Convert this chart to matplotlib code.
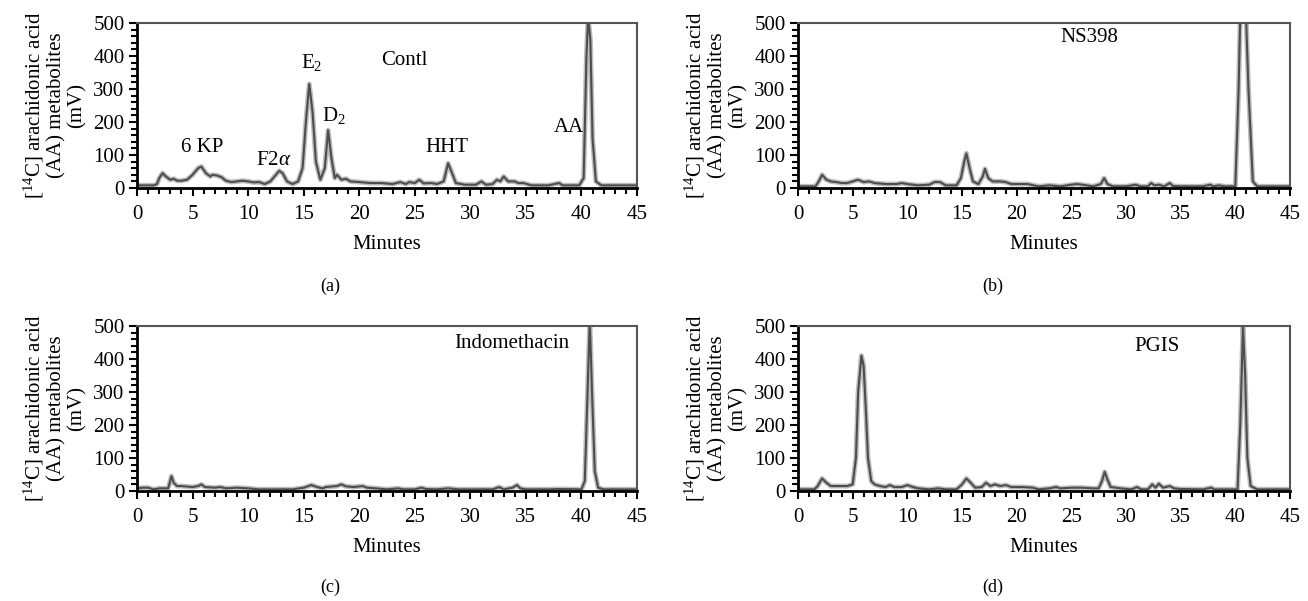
import matplotlib
matplotlib.use('Agg')
import matplotlib.pyplot as plt
from matplotlib.ticker import MultipleLocator

plt.rcParams['font.family'] = ['Liberation Serif', 'DejaVu Serif']
plt.rcParams['mathtext.fontset'] = 'custom'
plt.rcParams['mathtext.rm'] = 'Liberation Serif'
plt.rcParams['mathtext.it'] = 'Liberation Serif:italic'

# Chromatogram traces (minutes, mV)
time_a = [0, 1.5, 1.8, 2.0, 2.3, 2.6, 3.0, 3.3, 3.6, 4.0, 4.5, 5.0, 5.5, 5.8, 6.2, 6.6, 6.8,
          7.2, 7.6, 8.0, 8.5, 9.0, 9.5, 10.0, 10.5, 11.0, 11.5, 12.0, 12.5, 12.8, 13.1, 13.5,
          14.0, 14.5, 14.9, 15.2, 15.5, 15.8, 16.1, 16.5, 16.9, 17.2, 17.5, 17.8, 18.0, 18.4,
          18.8, 19.2, 20.0, 21.0, 22.0, 23.0, 23.7, 24.2, 24.5, 25.0, 25.4, 25.8, 26.5, 27.0,
          27.6, 28.0, 28.3, 28.7, 29.5, 30.5, 31.0, 31.4, 32.0, 32.4, 32.7, 33.0, 33.4, 34.0,
          34.3, 34.8, 35.5, 37.0, 38.0, 38.3, 39.8, 40.2, 40.45, 40.6, 40.8, 41.0, 41.3, 41.8, 45]
mv_a = [8, 8, 12, 30, 45, 35, 25, 28, 22, 22, 25, 40, 60, 65, 45, 35, 40,
        38, 33, 22, 18, 20, 22, 20, 17, 18, 12, 20, 40, 52, 45, 20,
        12, 20, 60, 200, 315, 230, 80, 25, 60, 175, 90, 30, 40, 25,
        28, 20, 18, 15, 15, 12, 18, 12, 18, 15, 25, 14, 15, 12,
        20, 75, 50, 15, 10, 10, 20, 10, 12, 25, 20, 35, 20, 20,
        15, 15, 8, 8, 15, 8, 8, 30, 400, 520, 450, 150, 20, 8, 8]

time_b = [0, 1.6, 1.9, 2.2, 2.6, 3.0, 3.5, 4.0, 4.5, 5.0, 5.5, 6.0, 6.5, 7.0, 8.0, 9.0,
          9.5, 10.0, 11.0, 12.0, 12.5, 13.0, 13.5, 14.5, 14.9, 15.2, 15.4, 15.7, 16.0, 16.5,
          16.9, 17.1, 17.4, 17.8, 18.5, 19.0, 19.5, 20.0, 21.0, 22.0, 23.0, 24.0, 25.0, 25.5,
          26.0, 27.0, 27.7, 28.0, 28.3, 28.8, 30.0, 30.9, 31.3, 32.0, 32.3, 32.6, 33.0, 33.5,
          34.0, 34.3, 35.0, 37.0, 37.7, 38.0, 38.5, 39.0, 40.0, 40.3, 40.5, 40.9, 41.2, 41.6,
          42.0, 45]
mv_b = [5, 5, 20, 40, 25, 20, 18, 15, 15, 20, 25, 18, 20, 15, 12, 12,
        15, 12, 8, 10, 18, 18, 8, 8, 30, 80, 105, 60, 20, 12,
        35, 58, 30, 20, 20, 18, 12, 12, 12, 5, 8, 5, 10, 12,
        10, 5, 12, 30, 12, 5, 5, 10, 5, 5, 15, 8, 10, 5,
        15, 6, 5, 5, 10, 5, 8, 5, 5, 300, 600, 600, 300, 20,
        5, 5]

time_c = [0, 0.5, 1.0, 1.5, 2.0, 2.8, 2.95, 3.1, 3.3, 3.6, 4.0, 5.0, 5.5, 5.8, 6.1, 7.0,
          7.5, 8.0, 9.0, 10.0, 11.0, 12.0, 13.0, 14.0, 15.0, 15.7, 16.2, 16.7, 17.0, 18.0,
          18.4, 18.8, 19.5, 20.3, 20.7, 21.5, 22.5, 23.5, 24.0, 25.0, 25.6, 26.0, 27.0, 28.0,
          29.0, 30.0, 31.0, 32.0, 32.6, 33.0, 33.8, 34.2, 34.5, 35.0, 37.0, 38.0, 40.0, 40.3,
          40.55, 40.75, 40.95, 41.2, 41.5, 42.0, 45]
mv_c = [8, 10, 10, 5, 8, 8, 25, 45, 25, 15, 15, 12, 15, 20, 12, 10,
        12, 8, 10, 8, 5, 5, 5, 5, 10, 18, 12, 8, 12, 15,
        20, 14, 12, 15, 10, 8, 5, 8, 5, 5, 10, 6, 5, 8,
        5, 5, 5, 5, 12, 5, 10, 18, 8, 5, 5, 6, 5, 30,
        300, 520, 300, 60, 10, 5, 5]

time_d = [0, 1.5, 1.8, 2.2, 2.6, 3.0, 3.5, 4.5, 5.0, 5.3, 5.5, 5.8, 6.0, 6.2, 6.4, 6.7,
          7.0, 7.5, 8.0, 8.4, 8.8, 9.5, 10.0, 10.5, 11.0, 12.0, 12.8, 13.5, 14.5, 15.0,
          15.4, 15.8, 16.2, 16.8, 17.2, 17.6, 18.0, 18.5, 19.0, 19.5, 20.5, 21.5, 22.0, 23.0,
          23.6, 24.0, 25.0, 26.0, 27.0, 27.5, 27.8, 28.05, 28.3, 28.6, 29.5, 30.5, 31.0, 31.4,
          32.0, 32.4, 32.7, 33.0, 33.4, 34.0, 34.4, 35.0, 37.0, 37.8, 38.1, 39.5, 40.2, 40.45,
          40.7, 40.9, 41.1, 41.4, 42.0, 45]
mv_d = [5, 5, 15, 38, 25, 15, 15, 15, 20, 100, 300, 410, 380, 250, 100, 30,
        20, 15, 12, 18, 12, 12, 18, 12, 8, 5, 8, 5, 5, 20,
        38, 25, 10, 12, 25, 15, 20, 15, 18, 12, 12, 10, 5, 8,
        12, 8, 10, 10, 8, 8, 30, 58, 35, 12, 8, 5, 12, 5,
        5, 20, 10, 22, 10, 15, 8, 6, 5, 10, 5, 5, 5, 200,
        500, 350, 100, 15, 5, 5]

ylabel_text = '[$^{14}$C] arachidonic acid\n(AA) metabolites\n(mV)'
captions = ['(a)', '(b)', '(c)', '(d)']
titles = ['Contl', 'NS398', 'Indomethacin', 'PGIS']
title_pos = [(24.1, 385), (26.6, 457), (33.7, 448), (32.8, 439)]

# peak labels for the control run
peak_labels = ['6 KP', r'F2$\alpha$', r'E$_2$', r'D$_2$', 'HHT', 'AA']
peak_label_pos = [(5.9, 124), (12.3, 82), (15.7, 379), (17.7, 221), (27.9, 124), (38.9, 182)]

FS = 15
LINE = '#4d4d4d'


def style_axes(ax):
    ax.set_xlim(0, 45)
    ax.set_ylim(0, 500)
    ax.xaxis.set_major_locator(MultipleLocator(5))
    ax.xaxis.set_minor_locator(MultipleLocator(1))
    ax.yaxis.set_major_locator(MultipleLocator(100))
    ax.yaxis.set_minor_locator(MultipleLocator(20))
    ax.tick_params(which='both', direction='out', top=False, right=False,
                   labelsize=FS, width=1.5, color='black')
    ax.tick_params(axis='x', which='both', pad=6)
    ax.tick_params(axis='y', which='both', pad=3)
    ax.tick_params(which='major', length=6)
    ax.tick_params(which='minor', length=4)
    for side in ['left', 'bottom']:
        ax.spines[side].set_linewidth(2)
        ax.spines[side].set_color('black')
    for side in ['top', 'right']:
        ax.spines[side].set_linewidth(1.5)
        ax.spines[side].set_color('#555555')
    ax.set_xlabel('Minutes', fontsize=FS, labelpad=8)
    ax.set_ylabel(ylabel_text, fontsize=FS, linespacing=1.05, labelpad=5)


def plot_trace(ax, t, v):
    ax.plot(t, v, color='#bdbdbd', lw=3.6, solid_joinstyle='round')
    ax.plot(t, v, color=LINE, lw=1.5, solid_joinstyle='round')


fig = plt.figure(figsize=(13.08, 6.01), dpi=100)
w, h = 500 / 1308, 165 / 601
boxes = [(137 / 1308, 1 - 188 / 601), (798 / 1308, 1 - 188 / 601),
         (137 / 1308, 1 - 491 / 601), (798 / 1308, 1 - 491 / 601)]
traces = [(time_a, mv_a), (time_b, mv_b), (time_c, mv_c), (time_d, mv_d)]

for i, (x0, y0) in enumerate(boxes):
    width = w if i % 2 == 0 else 492 / 1308
    ax = fig.add_axes([x0, y0, width, h])
    plot_trace(ax, *traces[i])
    style_axes(ax)
    tx, ty = title_pos[i]
    ax.text(tx, ty, titles[i], fontsize=FS, ha='center', va='center')
    if i == 0:
        for lab, (px, py) in zip(peak_labels, peak_label_pos):
            ax.text(px, py, lab, fontsize=FS, ha='center', va='center')

cap_y = [1 - 286 / 601, 1 - 286 / 601, 1 - 587 / 601, 1 - 587 / 601]
cap_x = [330 / 1308, 993 / 1308, 330 / 1308, 993 / 1308]
for cx, cy, cap in zip(cap_x, cap_y, captions):
    fig.text(cx, cy, cap, fontsize=FS - 2, ha='center', va='center')

fig.savefig('out.png', dpi=100, facecolor='white')
